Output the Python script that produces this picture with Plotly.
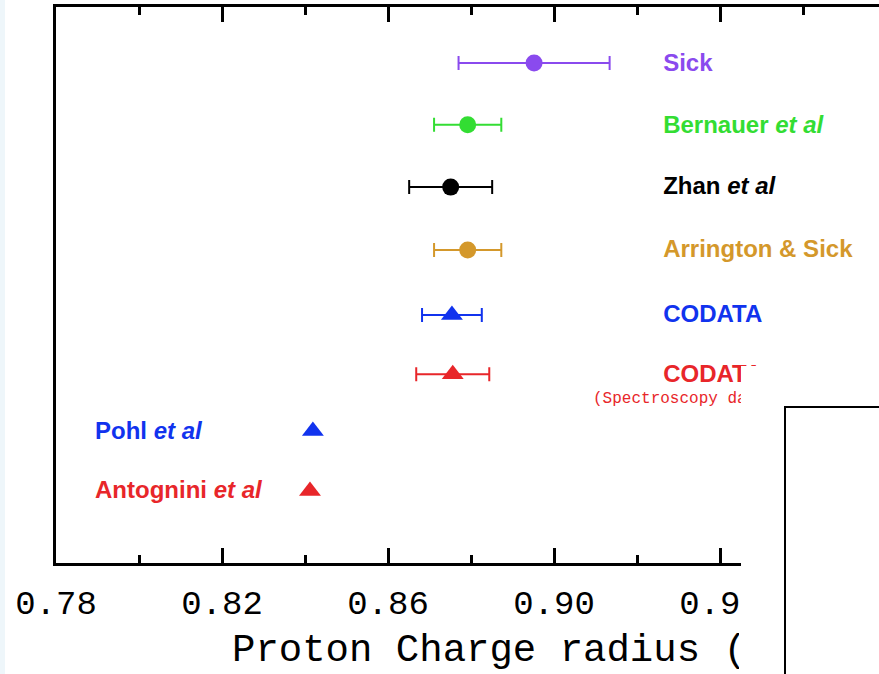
import plotly.graph_objects as go

# ---- data ----
labels = ["Sick", "Bernauer <i>et al</i>", "Zhan <i>et al</i>", "Arrington &amp; Sick",
          "CODATA", "CODATA", "Pohl <i>et al</i>", "Antognini <i>et al</i>"]
radius = [0.8952, 0.8792, 0.8751, 0.8792, 0.8754, 0.8756, 0.8419, 0.8412]
errors = [0.0182, 0.0081, 0.0100, 0.0081, 0.0072, 0.0088, 0.0, 0.0]
rows = [8.0, 6.99, 5.97, 4.94, 3.88, 2.91, 1.98, 1.0]
colors = ["#8a4aee", "#33dd33", "#000000", "#d4982b", "#1133ee", "#e8262a", "#1133ee", "#e8262a"]
symbols = ["circle", "circle", "circle", "circle", "triangle-up", "triangle-up", "triangle-up", "triangle-up"]
label_x = [0.9263, 0.9263, 0.9263, 0.9263, 0.9263, 0.9263, 0.7894, 0.7894]
label_rows = [7.96, 6.95, 5.95, 4.92, 3.86, 2.88, 1.95, 0.98]
note_text = "(Spectroscopy data)"
note_x = 0.9094
note_row = 2.50
x_range = [0.78, 0.97831]
y_range = [-0.178, 8.916]
x_title = "Proton Charge radius (fm)"

LABEL_FONT = "Liberation Sans, Arial, sans-serif"

fig = go.Figure()
for i in range(len(radius)):
    has_err = errors[i] > 0
    fig.add_trace(go.Scatter(
        x=[radius[i]], y=[rows[i]], mode="markers",
        marker=dict(symbol=symbols[i], size=17 if symbols[i] == "circle" else 19,
                    color=colors[i], line=dict(width=0)),
        error_x=dict(type="data", array=[errors[i]], visible=has_err,
                     color=colors[i], thickness=2, width=7),
        showlegend=False, hoverinfo="skip"))
    fig.add_trace(go.Scatter(
        x=[label_x[i]], y=[label_rows[i]], mode="text", text=[labels[i]],
        textposition="middle right", cliponaxis=False,
        textfont=dict(family=LABEL_FONT, size=24, color=colors[i], weight="bold"),
        showlegend=False, hoverinfo="skip"))

fig.add_trace(go.Scatter(
    x=[note_x], y=[note_row], mode="text", text=[note_text],
    textposition="middle right", cliponaxis=False,
    textfont=dict(family="Liberation Mono, Courier New, monospace", size=16, color="#e8262a"),
    showlegend=False, hoverinfo="skip"))

axis_font = "Liberation Mono, DejaVu Sans Mono, monospace"
fig.update_xaxes(range=x_range, showline=True, linewidth=3, linecolor="black",
                 mirror="ticks", ticks="inside", ticklen=15, tickwidth=2.5, tickcolor="black",
                 tick0=0.78, dtick=0.04, tickformat=".2f", ticklabelstandoff=7,
                 minor=dict(ticks="inside", ticklen=8, tickwidth=2.5, tickcolor="black", dtick=0.02, tick0=0.78),
                 showgrid=False, zeroline=False,
                 tickfont=dict(family=axis_font, size=34, color="black"))
fig.update_yaxes(range=y_range, showline=True, linewidth=3, linecolor="black",
                 showticklabels=False, ticks="", showgrid=False, zeroline=False)

fig.add_annotation(xref="paper", yref="paper", x=(230 - 56) / 823, y=(563 - 627) / 556,
                   xanchor="left", yanchor="top", align="left", width=511 - 4,
                   text=x_title, showarrow=False,
                   font=dict(family=axis_font, size=39, color="black"))

# left faint strip
fig.add_shape(type="rect", xref="paper", yref="paper", x0=-56 / 823, x1=-51 / 823,
              y0=-0.3, y1=1.1, fillcolor="#eef6fa", line=dict(width=0), layer="above")
# white cover on the lower right
fig.add_shape(type="rect", xref="paper", yref="paper", x0=(741 - 56) / 823, x1=1.02,
              y0=-0.3, y1=(563 - 366) / 556, fillcolor="white", line=dict(width=0), layer="above")
# black framed box
fig.add_shape(type="rect", xref="paper", yref="paper", x0=(785 - 56) / 823, x1=1.05,
              y0=-0.3, y1=(563 - 407) / 556, fillcolor="white",
              line=dict(color="black", width=2), layer="above")

fig.update_layout(width=879, height=674, margin=dict(l=56, r=0, t=7, b=111),
                  plot_bgcolor="white", paper_bgcolor="white", showlegend=False)

fig.write_html("out.html", config={"displayModeBar": False},
               post_script="document.body.style.margin='0';")
